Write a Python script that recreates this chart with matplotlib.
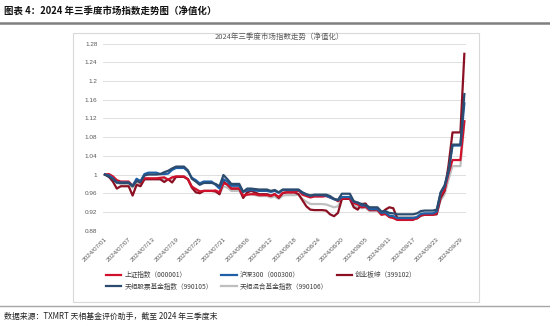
import matplotlib
matplotlib.use('Agg')
import matplotlib.pyplot as plt
import pandas as pd
from matplotlib.patches import Rectangle
from matplotlib.lines import Line2D

plt.rcParams['font.family'] = ['Noto Sans CJK SC', 'DejaVu Sans']

# datas de calendario (fim de semana repete o ultimo valor)
dates = pd.date_range('2024-07-01', '2024-09-30', freq='D')

sh = [1.000, 1.001, 0.996, 0.988, 0.985, 0.985, 0.985,
      0.976, 0.988, 0.982, 0.992, 0.992, 0.992, 0.992,
      0.993, 0.994, 0.989, 0.994, 0.996, 0.996, 0.996,
      0.990, 0.974, 0.969, 0.964, 0.965, 0.965, 0.965,
      0.966, 0.962, 0.981, 0.979, 0.970, 0.970, 0.970,
      0.955, 0.957, 0.958, 0.958, 0.956, 0.956, 0.956,
      0.954, 0.958, 0.952, 0.961, 0.962, 0.962, 0.962,
      0.966, 0.957, 0.954, 0.951, 0.953, 0.953, 0.953,
      0.954, 0.951, 0.948, 0.943, 0.949, 0.949, 0.949,
      0.939, 0.936, 0.930, 0.931, 0.924, 0.924, 0.924,
      0.914, 0.916, 0.909, 0.907, 0.903, 0.903, 0.903,
      0.903, 0.903, 0.907, 0.914, 0.914, 0.914, 0.914,
      0.918, 0.956, 0.967, 1.002, 1.031, 1.031, 1.031,
      1.114]

hs300 = [1.000, 0.998, 0.992, 0.983, 0.983, 0.983, 0.983,
         0.976, 0.991, 0.986, 1.001, 1.004, 1.004, 1.004,
         1.001, 1.001, 1.002, 1.010, 1.014, 1.014, 1.014,
         1.007, 0.993, 0.988, 0.981, 0.985, 0.985, 0.985,
         0.978, 0.970, 0.990, 0.985, 0.976, 0.976, 0.976,
         0.963, 0.966, 0.967, 0.966, 0.965, 0.965, 0.965,
         0.963, 0.965, 0.961, 0.967, 0.967, 0.967, 0.967,
         0.967, 0.961, 0.957, 0.955, 0.956, 0.956, 0.956,
         0.955, 0.951, 0.947, 0.945, 0.952, 0.952, 0.952,
         0.942, 0.940, 0.934, 0.934, 0.926, 0.926, 0.926,
         0.918, 0.919, 0.912, 0.911, 0.907, 0.907, 0.907,
         0.907, 0.907, 0.909, 0.916, 0.917, 0.917, 0.917,
         0.921, 0.961, 0.975, 1.006, 1.062, 1.062, 1.062,
         1.152]

cyb = [1.000, 0.995, 0.985, 0.970, 0.975, 0.975, 0.975,
       0.955, 0.978, 0.975, 0.990, 0.990, 0.990, 0.990,
       0.990, 0.984, 0.990, 0.983, 0.995, 0.995, 0.995,
       0.990, 0.972, 0.962, 0.960, 0.965, 0.965, 0.965,
       0.964, 0.958, 0.985, 0.978, 0.970, 0.970, 0.970,
       0.950, 0.962, 0.965, 0.962, 0.958, 0.958, 0.958,
       0.955, 0.958, 0.950, 0.960, 0.962, 0.962, 0.962,
       0.958, 0.945, 0.932, 0.925, 0.924, 0.924, 0.924,
       0.923, 0.915, 0.911, 0.918, 0.948, 0.948, 0.948,
       0.930, 0.925, 0.937, 0.938, 0.925, 0.925, 0.925,
       0.918, 0.925, 0.930, 0.928, 0.907, 0.907, 0.907,
       0.907, 0.907, 0.906, 0.912, 0.914, 0.914, 0.914,
       0.915, 0.950, 0.965, 1.020, 1.090, 1.090, 1.090,
       1.258]

tx_stock = [1.000, 0.995, 0.990, 0.983, 0.982, 0.982, 0.982,
            0.975, 0.986, 0.984, 0.998, 1.000, 1.000, 1.000,
            1.001, 1.005, 1.008, 1.013, 1.017, 1.017, 1.017,
            1.009, 0.991, 0.985, 0.978, 0.982, 0.982, 0.982,
            0.980, 0.975, 0.999, 0.990, 0.980, 0.980, 0.980,
            0.963, 0.970, 0.970, 0.969, 0.968, 0.968, 0.968,
            0.965, 0.967, 0.962, 0.968, 0.968, 0.968, 0.968,
            0.968, 0.962, 0.958, 0.955, 0.957, 0.957, 0.957,
            0.957, 0.954, 0.948, 0.946, 0.959, 0.959, 0.959,
            0.943, 0.940, 0.937, 0.935, 0.930, 0.930, 0.930,
            0.921, 0.922, 0.918, 0.917, 0.915, 0.915, 0.915,
            0.915, 0.915, 0.917, 0.922, 0.923, 0.923, 0.923,
            0.925, 0.962, 0.977, 1.010, 1.064, 1.064, 1.064,
            1.172]

tx_mix = [1.000, 0.997, 0.990, 0.982, 0.980, 0.980, 0.980,
          0.972, 0.982, 0.979, 0.990, 0.990, 0.990, 0.990,
          0.990, 0.990, 0.988, 0.992, 0.995, 0.995, 0.995,
          0.990, 0.975, 0.968, 0.963, 0.965, 0.965, 0.965,
          0.964, 0.958, 0.975, 0.972, 0.965, 0.965, 0.965,
          0.952, 0.957, 0.958, 0.956, 0.954, 0.954, 0.954,
          0.951, 0.953, 0.948, 0.955, 0.956, 0.956, 0.956,
          0.957, 0.948, 0.942, 0.937, 0.937, 0.937, 0.937,
          0.936, 0.933, 0.930, 0.932, 0.948, 0.948, 0.948,
          0.934, 0.930, 0.928, 0.929, 0.922, 0.922, 0.922,
          0.914, 0.915, 0.912, 0.911, 0.909, 0.909, 0.909,
          0.909, 0.909, 0.910, 0.915, 0.916, 0.916, 0.916,
          0.918, 0.945, 0.958, 0.990, 1.018, 1.018, 1.018,
          1.112]

names = ['上证指数（000001）', '沪深300（000300）', '创业板综（399102）',
         '天相股票基金指数（990105）', '天相混合基金指数（990106）']
colors = ['#D0112B', '#1F5FA6', '#8B1023', '#2B4C6F', '#BFBFBF']

y_ticks = [0.88, 0.92, 0.96, 1.0, 1.04, 1.08, 1.12, 1.16, 1.2, 1.24, 1.28]
y_labels = ['0.88', '0.92', '0.96', '1', '1.04', '1.08', '1.12', '1.16', '1.2', '1.24', '1.28']

W, H = 550, 324
fig = plt.figure(figsize=(5.5, 3.24), dpi=100)

# cabecalho
fig.text(4 / W, 1 - 11 / H, '图表 4：2024 年三季度市场指数走势图（净值化）',
         fontsize=6.8, fontweight='bold', va='center', ha='left', color='#111111')
fig.add_artist(Line2D([0, 1], [1 - 23 / H, 1 - 23 / H], color='#7F7F7F', lw=1.8))

# moldura do grafico
fig.add_artist(Rectangle((73 / W, 1 - 302 / H), (479 - 73) / W, (302 - 33) / H,
                         fill=False, edgecolor='#D9D9D9', lw=0.8))

ax = fig.add_axes([103 / W, 1 - 230.7 / H, (466 - 103) / W, (230.7 - 43.5) / H])

series = [sh, hs300, cyb, tx_stock, tx_mix]
order = [4, 2, 0, 1, 3]
lines = {}
for i in order:
    ln, = ax.plot(dates, series[i], color=colors[i], lw=1.6, label=names[i])
    lines[i] = ln

ax.set_ylim(0.88, 1.28)
ax.set_xlim(dates[0] - pd.Timedelta(hours=12), dates[-1] + pd.Timedelta(hours=10))
ax.set_yticks(y_ticks)
ax.set_yticklabels(y_labels, fontsize=4.6, color='#595959', family='Liberation Sans')
xt = dates[::6]
ax.set_xticks(xt)
ax.set_xticklabels([d.strftime('%Y/%m/%d') for d in xt], rotation=45, ha='right',
                   va='top', rotation_mode='anchor', fontsize=4.6, color='#595959',
                   family='Liberation Sans')
ax.tick_params(length=0, pad=4)
ax.grid(axis='y', color='#D9D9D9', lw=0.6)
ax.set_axisbelow(True)
for s in ax.spines.values():
    s.set_visible(False)

fig.text(279 / W, 1 - 37 / H, '2024年三季度市场指数走势（净值化）', fontsize=5.4,
         color='#595959', ha='center', va='center')

# legenda em linhas (ordem coluna a coluna)
leg_order = [0, 3, 1, 4, 2]
fig.legend([lines[i] for i in leg_order], [names[i] for i in leg_order],
           loc='upper left', bbox_to_anchor=(106 / W, 1 - 271 / H), ncol=3,
           frameon=False, fontsize=4.8, handlelength=2.3, handletextpad=0.45,
           columnspacing=1.3, labelspacing=0.55, borderpad=0, borderaxespad=0,
           labelcolor='#404040')

# rodape
fig.add_artist(Line2D([0, 1], [1 - 305.5 / H, 1 - 305.5 / H], color='#A6A6A6', lw=1.0))
fig.text(4 / W, 1 - 316 / H, '数据来源：TXMRT 天相基金评价助手，截至 2024 年三季度末',
         fontsize=5.7, va='center', ha='left', color='#222222')

fig.savefig('out.png', dpi=100)
